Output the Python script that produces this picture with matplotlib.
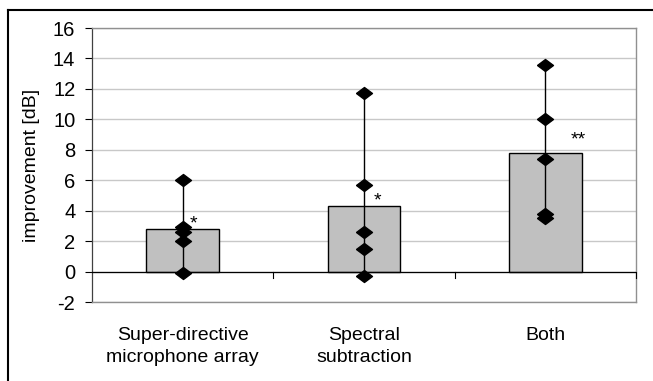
import matplotlib
matplotlib.use("Agg")
import matplotlib.pyplot as plt
from matplotlib.lines import Line2D

plt.rcParams['font.family'] = ['Liberation Sans', 'DejaVu Sans']

categories = ["Super-directive\nmicrophone array", "Spectral\nsubtraction", "Both"]
means = [2.8, 4.3, 7.8]
points = [
    [6.0, 2.9, 2.6, 2.0, -0.1],
    [11.7, 5.7, 2.6, 1.5, -0.3],
    [13.6, 10.0, 7.4, 3.8, 3.5],
]
stars = ["*", "*", "**"]
star_y = [3.6, 5.1, 9.1]
star_dx = [0.06, 0.075, 0.18]
yticks = [-2, 0, 2, 4, 6, 8, 10, 12, 14, 16]

W, H = 653, 381
fig = plt.figure(figsize=(W / 100, H / 100), dpi=100)
ax = fig.add_axes([92 / W, 1 - 302 / H, 544 / W, 274 / H])

x = list(range(len(categories)))
ax.set_xlim(-0.5, len(categories) - 0.5)
ax.set_ylim(-2, 16)

for yv in yticks:
    ax.axhline(yv, color="#c8c8c8", lw=1.0, zorder=0)

ax.bar(x, means, width=0.4, color="#c0c0c0", edgecolor="black", lw=1.0, zorder=2)
ax.axhline(0, color="black", lw=0.9, zorder=3)

diamond = [(-1, 0), (0, 0.75), (1, 0), (0, -0.75), (-1, 0)]
for i, pts in enumerate(points):
    ax.plot([x[i], x[i]], [min(pts), max(pts)], color="black", lw=1.0, zorder=4)
    ax.plot([x[i]] * len(pts), pts, linestyle="none", marker=diamond, ms=11.5,
            color="black", zorder=5)
    ax.text(x[i] + star_dx[i], star_y[i] - 0.75, stars[i],
            ha="center", va="baseline", fontsize=14, zorder=6)

# category boundary ticks on the zero line
for b in [0.5, 1.5, 2.5]:
    ax.plot([b, b], [0, -0.4], color="black", lw=0.8, zorder=3, clip_on=False)

ax.set_yticks(yticks)
ax.set_yticklabels([str(v) for v in yticks], fontsize=14.5)
ax.tick_params(axis="y", direction="out", length=5, width=0.8, pad=7)
ax.set_xticks([])
for i, c in enumerate(categories):
    ax.text(x[i], -3.65, c, ha="center", va="top", fontsize=14, linespacing=1.4,
            transform=ax.transData)

ax.set_ylabel("improvement [dB]", fontsize=14, labelpad=9)

for s in ["top", "right", "bottom"]:
    ax.spines[s].set_color("#909090")
    ax.spines[s].set_linewidth(1.0)
ax.spines["left"].set_color("#404040")
ax.spines["left"].set_linewidth(0.9)

# outer frame
fig.add_artist(Line2D([8 / W, 1], [1 - 10 / H, 1 - 10 / H], color="black", lw=1.5,
                      transform=fig.transFigure))
fig.add_artist(Line2D([8 / W, 8 / W], [1 - 10 / H, 0], color="black", lw=1.5,
                      transform=fig.transFigure))

fig.savefig("out.png", dpi=100)
